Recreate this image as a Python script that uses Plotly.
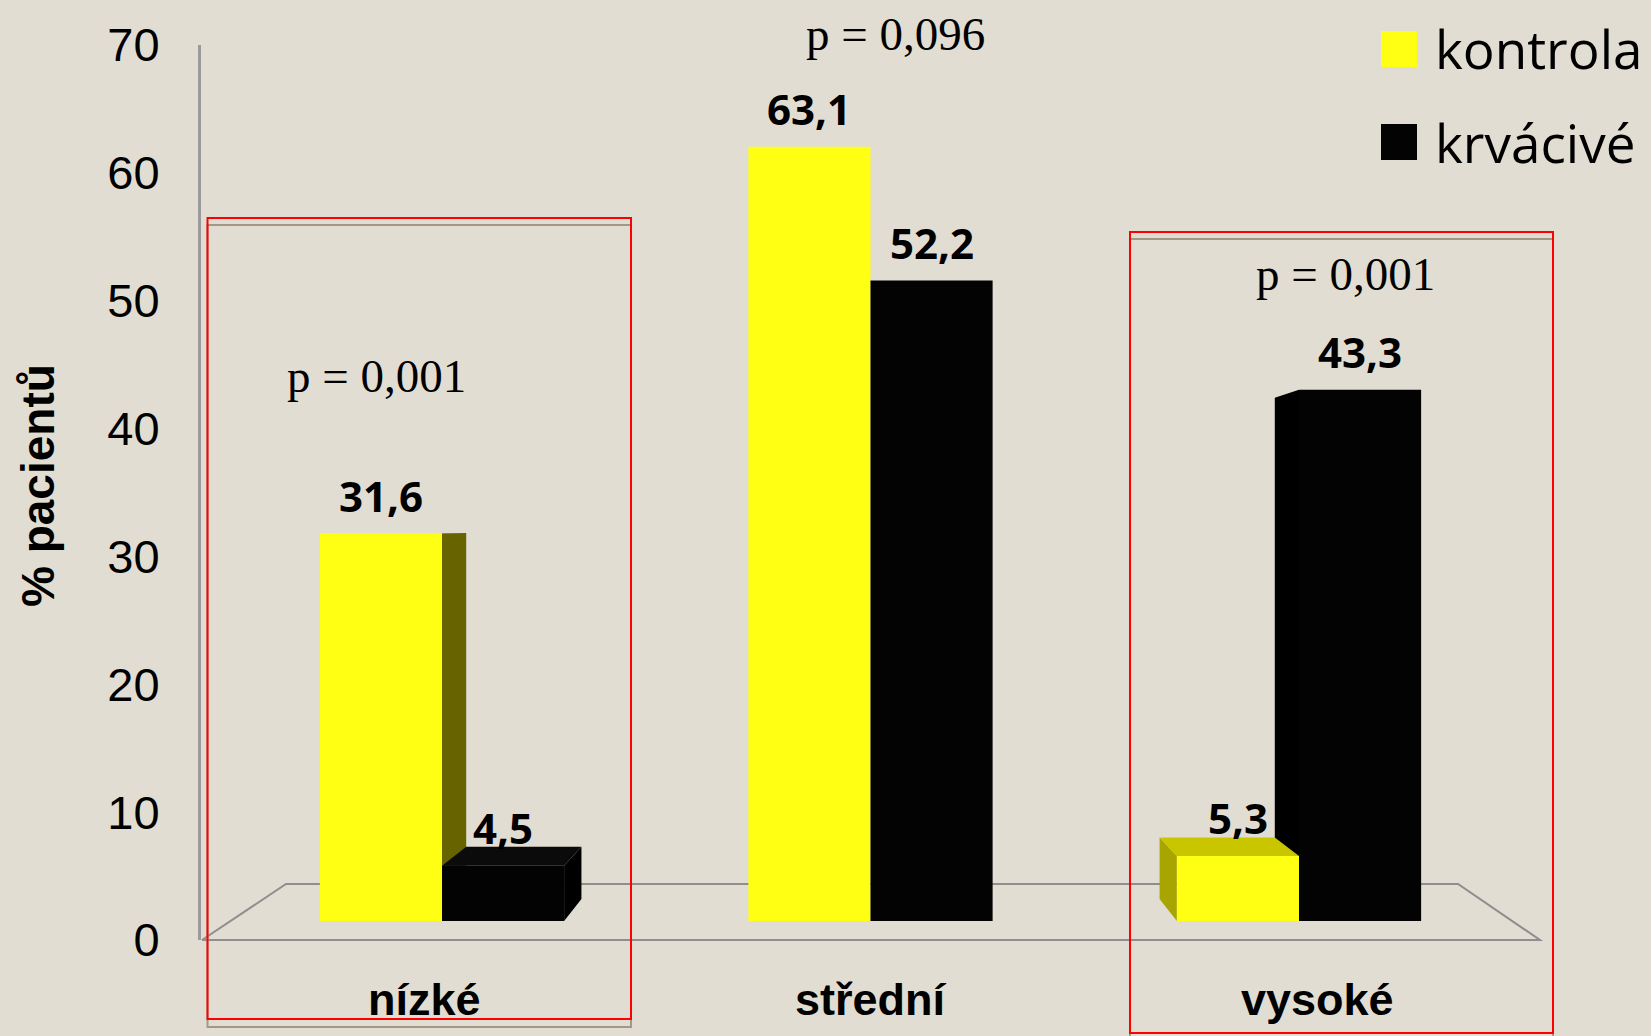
import plotly.graph_objects as go

# ---------------- data ----------------
categories = ["nízké", "střední", "vysoké"]
series_names = ["kontrola", "krvácivé"]
kontrola = [31.6, 63.1, 5.3]
krvacive = [4.5, 52.2, 43.3]
p_values = ["p = 0,001", "p = 0,096", "p = 0,001"]
y_tick_values = [0, 10, 20, 30, 40, 50, 60, 70]
y_title = "% pacientů"

# ---------------- layout constants ----------------
W, H = 1651, 1036
PL, PR, PT, PB = 201, 1541, 45, 940
BG = "#E2DDD2"
YELLOW = "#FFFF14"
BLACK = "#030303"

GROUP0_PX = 442.0
GROUP_STEP_PX = 428.5
BASE_PX = 921.0
PX_PER_UNIT = 12.27
BAR_W = 0.285

x_range = [(PL - GROUP0_PX) / GROUP_STEP_PX, (PR - GROUP0_PX) / GROUP_STEP_PX]
y_range = [-(PB - BASE_PX) / PX_PER_UNIT, (BASE_PX - PT) / PX_PER_UNIT]

# the printed axis (0..70) spans the whole plot height; map its ticks onto the bar scale
AXIS_MAX = y_tick_values[-1]
TICK_PX = (PB - PT) / AXIS_MAX
tick_pos = [(v * TICK_PX - (PB - BASE_PX)) / PX_PER_UNIT for v in y_tick_values]


def px_x(px):
    return (px - PL) / (PR - PL)


def px_y(py):
    return (PB - py) / (PB - PT)


xs = list(range(len(categories)))
series = [
    (series_names[0], kontrola, YELLOW, -BAR_W),
    (series_names[1], krvacive, BLACK, 0.0),
]

fig = go.Figure()
for name, vals, col, off in series:
    fig.add_trace(go.Bar(
        x=xs, y=vals, name=name, width=BAR_W, offset=off,
        marker=dict(color=col, line=dict(width=0)),
        showlegend=False, hoverinfo="skip",
    ))

shapes = []

# floor of the 3D chart
floor_pts = [(202, 940), (1540, 940), (1458, 884), (286, 884), (202, 940)]
path = "M " + " L ".join(f"{px_x(a):.5f},{px_y(b):.5f}" for a, b in floor_pts)
shapes.append(dict(type="path", path=path, xref="paper", yref="paper",
                   line=dict(color="#8E8E8E", width=2), layer="below"))

# pseudo-3D faces (perspective towards vanishing point)
VX = 1.0
VY = (BASE_PX - 530) / PX_PER_UNIT
K = 0.0565


def back(x, y):
    return (x + K * (VX - x), y + K * (VY - y))


def poly(pts):
    return "M " + " L ".join(f"{a:.5f},{b:.5f}" for a, b in pts) + " Z"


face_colors = {
    YELLOW: {"right": "#676400", "left": "#A8A500", "top": "#C9C600"},
    BLACK: {"right": "#000000", "left": "#000000", "top": "#0B0B0B"},
}

for i in xs:
    bars = []
    for name, vals, col, off in series:
        x0 = i + off
        x1 = x0 + BAR_W
        bars.append((x0, x1, vals[i], col))
    bars.sort(key=lambda b: -abs((b[0] + b[1]) / 2 - VX))
    for x0, x1, h, col in bars:
        c = (x0 + x1) / 2
        xs_edge = x1 if c < VX else x0
        side = "right" if c < VX else "left"
        if abs(xs_edge - VX) > 1e-6:
            pts = [(xs_edge, 0), (xs_edge, h), back(xs_edge, h), back(xs_edge, 0)]
            shapes.append(dict(type="path", path=poly(pts), xref="x", yref="y",
                               fillcolor=face_colors[col][side], line=dict(width=0),
                               layer="below"))
        if h < VY:
            pts = [(x0, h), (x1, h), back(x1, h), back(x0, h)]
            shapes.append(dict(type="path", path=poly(pts), xref="x", yref="y",
                               fillcolor=face_colors[col]["top"], line=dict(width=0),
                               layer="below"))

# highlight rectangles
for (a, b, c, d) in [(207.5, 218, 631, 1019), (1130, 232, 1553, 1033)]:
    shapes.append(dict(type="rect", xref="paper", yref="paper",
                       x0=px_x(a), x1=px_x(c), y0=px_y(b + 7), y1=px_y(d + 8),
                       line=dict(color="#A39785", width=2), layer="below"))
    shapes.append(dict(type="rect", xref="paper", yref="paper",
                       x0=px_x(a), x1=px_x(c), y0=px_y(b), y1=px_y(d),
                       line=dict(color="#FF0000", width=2), layer="above"))

# legend squares
legend_colors = [YELLOW, BLACK]
legend_y = [49, 142]
for col, cy in zip(legend_colors, legend_y):
    shapes.append(dict(type="rect", xref="paper", yref="paper",
                       x0=px_x(1381), x1=px_x(1417), y0=px_y(cy - 18), y1=px_y(cy + 18),
                       fillcolor=col, line=dict(width=0), layer="above"))

annotations = []
# value labels
for name, vals, col, off in series:
    for i, v in zip(xs, vals):
        annotations.append(dict(
            x=i + off + BAR_W / 2, y=v, xref="x", yref="y",
            text=f"{v:.1f}".replace(".", ","), showarrow=False,
            xanchor="center", yanchor="middle", yshift=38,
            font=dict(family="Open Sans", size=42, color="black", weight="bold"),
        ))

# legend texts
for nm, cy in zip(series_names, legend_y):
    annotations.append(dict(x=px_x(1433), y=px_y(cy), xref="paper", yref="paper",
                            text=nm, showarrow=False, xanchor="left", yanchor="middle",
                            font=dict(family="Open Sans", size=53, color="black")))

# category labels
for i, cat in enumerate(categories):
    annotations.append(dict(x=(i + 0.5) / len(categories), y=px_y(999),
                            xref="paper", yref="paper", text=cat, showarrow=False,
                            xanchor="center", yanchor="middle",
                            font=dict(family="Liberation Sans", size=45, color="black",
                                      weight="bold")))

# p-values
p_pos = [(376, 376), (895, 34), (1345, 274)]
for txt, (a, b) in zip(p_values, p_pos):
    annotations.append(dict(x=px_x(a), y=px_y(b), xref="paper", yref="paper",
                            text=txt, showarrow=False, xanchor="center", yanchor="middle",
                            font=dict(family="Liberation Serif", size=47, color="black")))

# y axis title
annotations.append(dict(x=px_x(38), y=px_y(486), xref="paper", yref="paper",
                        text=y_title, textangle=-90, showarrow=False,
                        xanchor="center", yanchor="middle",
                        font=dict(family="Liberation Sans", size=46, color="black",
                                  weight="bold")))

fig.update_layout(
    width=W, height=H,
    margin=dict(l=PL, r=W - PR, t=PT, b=H - PB, pad=0),
    paper_bgcolor=BG, plot_bgcolor=BG,
    barmode="overlay",
    showlegend=False,
    xaxis=dict(range=x_range, visible=False, fixedrange=True),
    yaxis=dict(range=y_range, tickvals=tick_pos,
               ticktext=[str(v) for v in y_tick_values],
               showgrid=False, zeroline=False, showline=True,
               linecolor="#9A9A9A", linewidth=3, ticks="",
               ticklabelstandoff=29,
               tickfont=dict(family="Liberation Sans", size=47, color="black")),
    shapes=shapes,
    annotations=annotations,
)

fig.write_html("out.html")
